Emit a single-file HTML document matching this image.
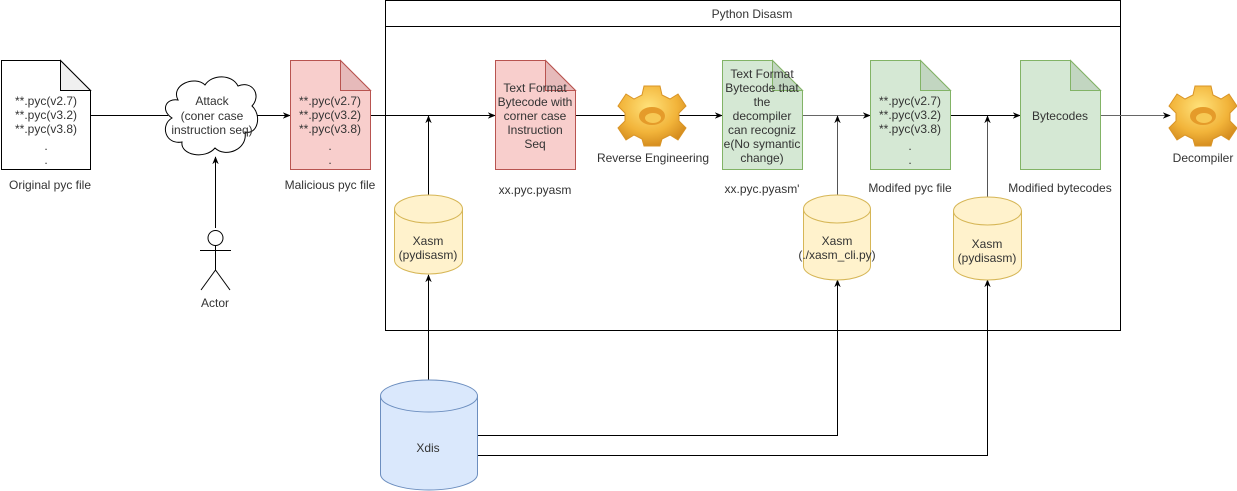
<!DOCTYPE html>
<html><head><meta charset="utf-8"><style>
html,body{margin:0;padding:0;background:#fff;}
svg{display:block;}
text{font-family:"Liberation Sans",Arial,sans-serif;font-size:12px;fill:#333;}
</style></head><body>
<svg width="1237" height="491" viewBox="0 0 1237 491" xmlns="http://www.w3.org/2000/svg">
<defs>
<marker id="ar" viewBox="0 0 10 10" refX="9" refY="5" markerWidth="8" markerHeight="8" orient="auto" markerUnits="userSpaceOnUse"><path d="M0,1 L10,5 L0,9 L3,5 z" fill="#000"/></marker>
<radialGradient id="gg" cx="45%" cy="35%" r="70%"><stop offset="0" stop-color="#ffe27a"/><stop offset="0.6" stop-color="#f2b43a"/><stop offset="1" stop-color="#d0861a"/></radialGradient>
<g id="gear">
<path d="M-8,-30 L8,-30 L10,-21 L18,-17 L26,-22 L34,-10 L27,-3 L27,5 L34,12 L26,24 L18,19 L10,23 L8,30 L-8,30 L-10,23 L-18,19 L-26,24 L-34,12 L-27,5 L-27,-3 L-34,-10 L-26,-22 L-18,-17 L-10,-21 z" fill="url(#gg)" stroke="#d99426" stroke-width="1"/>
<ellipse cx="0" cy="0" rx="13" ry="9" fill="#e59b2a"/>
<ellipse cx="1" cy="2" rx="8" ry="5" fill="#f7c955"/>
</g>
</defs>

<!-- container -->
<rect x="385.5" y="0.5" width="735" height="330" fill="none" stroke="#000"/>
<line x1="385.5" y1="26.5" x2="1120.5" y2="26.5" stroke="#000"/>
<text x="752" y="18" text-anchor="middle">Python Disasm</text>

<!-- connectors -->
<g stroke="#000" stroke-width="1" fill="none">
<line x1="90" y1="115.5" x2="168" y2="115.5"/>
<line x1="256" y1="115.5" x2="290" y2="115.5" marker-end="url(#ar)"/>
<line x1="215.5" y1="228" x2="215.5" y2="157" marker-end="url(#ar)"/>
<line x1="370" y1="115.5" x2="495" y2="115.5" marker-end="url(#ar)"/>
<line x1="428.5" y1="195" x2="428.5" y2="116" marker-end="url(#ar)"/>
<line x1="575" y1="115.5" x2="722" y2="115.5" marker-end="url(#ar)"/>
<line x1="802" y1="115.5" x2="870" y2="115.5" marker-end="url(#ar)" stroke="#666"/>
<line x1="837.5" y1="195" x2="837.5" y2="116" marker-end="url(#ar)" stroke="#555"/>
<line x1="950" y1="115.5" x2="1020" y2="115.5" marker-end="url(#ar)"/>
<line x1="987.5" y1="197" x2="987.5" y2="116" marker-end="url(#ar)" stroke="#555"/>
<line x1="1100" y1="115.5" x2="1170" y2="115.5" marker-end="url(#ar)" stroke="#666"/>
<line x1="428.5" y1="380" x2="428.5" y2="275" marker-end="url(#ar)"/>
<polyline points="477,435.5 837.5,435.5 837.5,280" marker-end="url(#ar)"/>
<polyline points="477,455.5 987.5,455.5 987.5,280" marker-end="url(#ar)"/>
</g>

<!-- original doc -->
<path d="M1.5,60.5 H60.5 L90.5,90.5 V169.5 H1.5 z" fill="#fff" stroke="#000"/>
<path d="M60.5,60.5 V90.5 H90.5 z" fill="#f0f0f0" stroke="#000"/>
<text text-anchor="middle" x="46"><tspan x="46" y="105">**.pyc(v2.7)</tspan><tspan x="46" y="119">**.pyc(v3.2)</tspan><tspan x="46" y="133">**.pyc(v3.8)</tspan><tspan x="46" y="150">.</tspan><tspan x="46" y="164">.</tspan></text>
<text x="50" y="189" text-anchor="middle">Original pyc file</text>

<!-- cloud -->
<path d="M178,100 C170,85 195,75 205,85 C212,74 232,74 238,86 C252,80 262,95 252,106 C262,115 258,135 245,132 C248,150 225,158 215,148 C205,160 180,155 182,142 C165,145 160,125 172,118 C160,110 166,98 178,100 z" fill="#fff" stroke="#000"/>
<text text-anchor="middle"><tspan x="212" y="105">Attack</tspan><tspan x="212" y="120">(coner case</tspan><tspan x="212" y="134">instruction seq)</tspan></text>

<!-- actor -->
<g stroke="#000" fill="#fff">
<circle cx="215.5" cy="238" r="7.5"/>
<line x1="215.5" y1="245.5" x2="215.5" y2="270"/>
<line x1="200" y1="250.5" x2="231" y2="250.5"/>
<line x1="215.5" y1="270" x2="201" y2="290"/>
<line x1="215.5" y1="270" x2="230" y2="290"/>
</g>
<text x="215" y="307" text-anchor="middle">Actor</text>

<!-- malicious -->
<path d="M290.5,60.5 H340.5 L370.5,90.5 V169.5 H290.5 z" fill="#f8cecc" stroke="#b85450"/>
<path d="M340.5,60.5 V90.5 H370.5 z" fill="#e6baba" stroke="#b85450"/>
<text text-anchor="middle"><tspan x="330" y="105">**.pyc(v2.7)</tspan><tspan x="330" y="119">**.pyc(v3.2)</tspan><tspan x="330" y="133">**.pyc(v3.8)</tspan><tspan x="330" y="150">.</tspan><tspan x="330" y="164">.</tspan></text>
<text x="330" y="189" text-anchor="middle">Malicious pyc file</text>

<!-- pyasm red -->
<path d="M495.5,60.5 H545.5 L575.5,90.5 V169.5 H495.5 z" fill="#f8cecc" stroke="#b85450"/>
<path d="M545.5,60.5 V90.5 H575.5 z" fill="#e6baba" stroke="#b85450"/>
<text text-anchor="middle"><tspan x="535" y="92">Text Format</tspan><tspan x="535" y="106">Bytecode with</tspan><tspan x="535" y="120">corner case</tspan><tspan x="535" y="134">Instruction</tspan><tspan x="535" y="148">Seq</tspan></text>
<text x="535" y="194" text-anchor="middle">xx.pyc.pyasm</text>

<!-- gear 1 -->
<use href="#gear" x="652" y="116"/>
<text x="653" y="162" text-anchor="middle">Reverse Engineering</text>

<!-- pyasm' green -->
<path d="M722.5,60.5 H772.5 L802.5,90.5 V169.5 H722.5 z" fill="#d5e8d4" stroke="#82b366"/>
<path d="M772.5,60.5 V90.5 H802.5 z" fill="#c2d6c1" stroke="#82b366"/>
<text text-anchor="middle"><tspan x="762" y="78">Text Format</tspan><tspan x="762" y="92">Bytecode that</tspan><tspan x="762" y="106">the</tspan><tspan x="762" y="120">decompiler</tspan><tspan x="762" y="134">can recogniz</tspan><tspan x="762" y="148">e(No symantic</tspan><tspan x="762" y="162">change)</tspan></text>
<text x="762" y="193" text-anchor="middle">xx.pyc.pyasm'</text>

<!-- modified pyc -->
<path d="M870.5,60.5 H920.5 L950.5,90.5 V169.5 H870.5 z" fill="#d5e8d4" stroke="#82b366"/>
<path d="M920.5,60.5 V90.5 H950.5 z" fill="#c2d6c1" stroke="#82b366"/>
<text text-anchor="middle"><tspan x="910" y="105">**.pyc(v2.7)</tspan><tspan x="910" y="119">**.pyc(v3.2)</tspan><tspan x="910" y="133">**.pyc(v3.8)</tspan><tspan x="910" y="150">.</tspan><tspan x="910" y="164">.</tspan></text>
<text x="910" y="192" text-anchor="middle">Modifed pyc file</text>

<!-- bytecodes -->
<path d="M1020.5,60.5 H1070.5 L1100.5,90.5 V169.5 H1020.5 z" fill="#d5e8d4" stroke="#82b366"/>
<path d="M1070.5,60.5 V90.5 H1100.5 z" fill="#c2d6c1" stroke="#82b366"/>
<text x="1060" y="120" text-anchor="middle">Bytecodes</text>
<text x="1060" y="192" text-anchor="middle">Modified bytecodes</text>

<!-- gear 2 -->
<use href="#gear" x="1203" y="116"/>
<text x="1203" y="162" text-anchor="middle">Decompiler</text>

<!-- cylinders -->
<g stroke="#d6b656" fill="#fff2cc">
<path d="M394.5,209 A34,14 0 0 1 462.5,209 V260 A34,14 0 0 1 394.5,260 z"/>
<path d="M394.5,209 A34,14 0 0 0 462.5,209" fill="none"/>
<path d="M803.5,209 A33.5,14 0 0 1 870.5,209 V266 A33.5,14 0 0 1 803.5,266 z"/>
<path d="M803.5,209 A33.5,14 0 0 0 870.5,209" fill="none"/>
<path d="M953.5,211 A34,14 0 0 1 1021.5,211 V266 A34,14 0 0 1 953.5,266 z"/>
<path d="M953.5,211 A34,14 0 0 0 1021.5,211" fill="none"/>
</g>
<text text-anchor="middle"><tspan x="428" y="245">Xasm</tspan><tspan x="428" y="259">(pydisasm)</tspan></text>
<text text-anchor="middle"><tspan x="837" y="245">Xasm</tspan><tspan x="837" y="259">(./xasm_cli.py)</tspan></text>
<text text-anchor="middle"><tspan x="987" y="248">Xasm</tspan><tspan x="987" y="262">(pydisasm)</tspan></text>

<g stroke="#6c8ebf" fill="#dae8fc">
<path d="M380.5,396 A48.5,16 0 0 1 477.5,396 V474 A48.5,16 0 0 1 380.5,474 z"/>
<path d="M380.5,396 A48.5,16 0 0 0 477.5,396" fill="none"/>
</g>
<text x="428" y="452" text-anchor="middle">Xdis</text>
</svg>
</body></html>
